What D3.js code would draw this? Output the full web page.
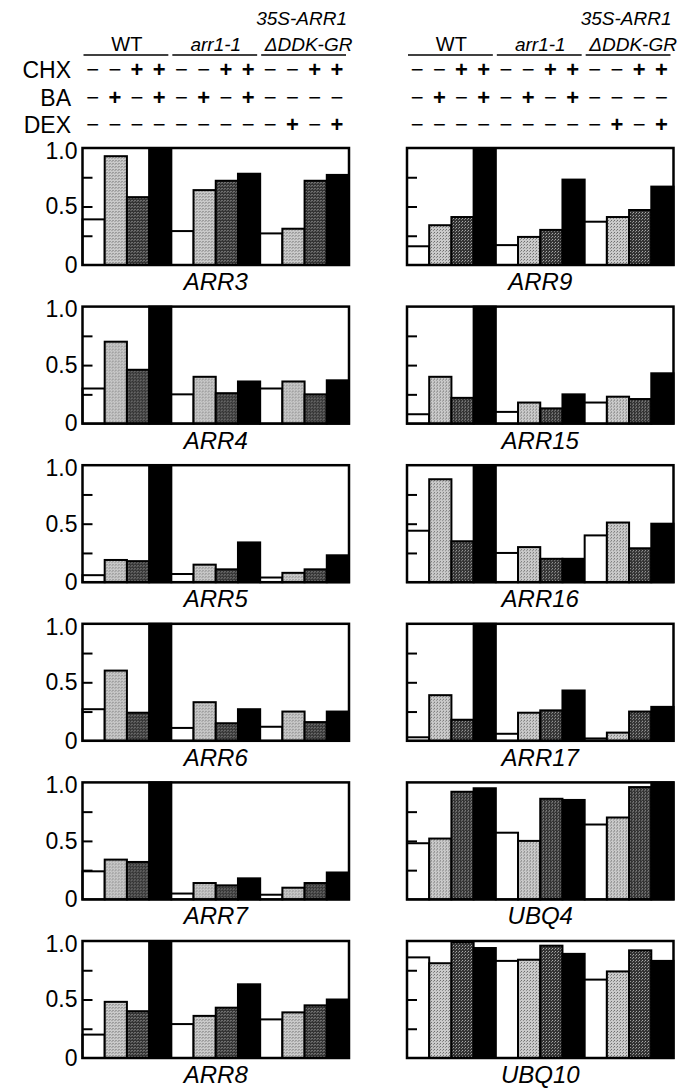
<!DOCTYPE html>
<html>
<head>
<meta charset="utf-8">
<script src="https://cdn.jsdelivr.net/npm/d3@7"></script>
<style>
  body {margin: 0; background: #fff;}
  text {font-family: "Liberation Sans", Arial, sans-serif; fill: #000;}
</style>
</head>
<body>
<div id="vis"></div>
<script>
const FRAME_WIDTH = 681;
const FRAME_HEIGHT = 1090;

// column / group labels
const GROUPS = ['WT', 'arr1-1', '\u0394DDK-GR'];
const CHX = ['-', '-', '+', '+', '-', '-', '+', '+', '-', '-', '+', '+'];
const BA  = ['-', '+', '-', '+', '-', '+', '-', '+', '-', '-', '-', '-'];
const DEX = ['-', '-', '-', '-', '-', '-', '-', '-', '-', '+', '-', '+'];
const Y_LABELS = [0, 0.5, 1];
const Y_TICKS = [0.25, 0.5, 0.75];

// relative expression, 12 lanes per gene
const ARR3  = [0.39, 0.93, 0.58, 1.00, 0.29, 0.64, 0.72, 0.78, 0.27, 0.31, 0.72, 0.77];
const ARR4  = [0.30, 0.70, 0.46, 1.00, 0.25, 0.40, 0.26, 0.36, 0.30, 0.36, 0.25, 0.37];
const ARR5  = [0.06, 0.19, 0.18, 1.00, 0.07, 0.15, 0.11, 0.34, 0.04, 0.08, 0.11, 0.23];
const ARR6  = [0.27, 0.60, 0.24, 1.00, 0.11, 0.33, 0.15, 0.27, 0.12, 0.25, 0.16, 0.25];
const ARR7  = [0.24, 0.34, 0.32, 1.00, 0.05, 0.14, 0.12, 0.18, 0.04, 0.10, 0.14, 0.23];
const ARR8  = [0.20, 0.48, 0.40, 1.00, 0.29, 0.36, 0.43, 0.63, 0.33, 0.39, 0.45, 0.50];
const ARR9  = [0.16, 0.34, 0.41, 1.00, 0.17, 0.24, 0.30, 0.73, 0.37, 0.41, 0.47, 0.67];
const ARR15 = [0.08, 0.40, 0.22, 1.00, 0.10, 0.18, 0.13, 0.25, 0.18, 0.23, 0.21, 0.43];
const ARR16 = [0.44, 0.88, 0.35, 1.00, 0.25, 0.30, 0.20, 0.20, 0.40, 0.51, 0.29, 0.50];
const ARR17 = [0.03, 0.39, 0.18, 1.00, 0.06, 0.24, 0.26, 0.43, 0.02, 0.07, 0.25, 0.29];
const UBQ4  = [0.48, 0.52, 0.92, 0.95, 0.57, 0.50, 0.86, 0.85, 0.64, 0.70, 0.96, 1.00];
const UBQ10 = [0.86, 0.81, 0.99, 0.94, 0.83, 0.84, 0.96, 0.89, 0.67, 0.74, 0.92, 0.83];

const LEFT_GENES = [['ARR3', ARR3], ['ARR4', ARR4], ['ARR5', ARR5], ['ARR6', ARR6], ['ARR7', ARR7], ['ARR8', ARR8]];
const RIGHT_GENES = [['ARR9', ARR9], ['ARR15', ARR15], ['ARR16', ARR16], ['ARR17', ARR17], ['UBQ4', UBQ4], ['UBQ10', UBQ10]];

// layout
const COL_X = [82.5, 407];
const PANEL_W = 266.5;
const PANEL_H = 117;
const TOP = 148;
const ROW_STEP = 158.6;
const ROW_Y = [78, 106, 132.5];

const SVG = d3.select('#vis')
  .append('svg')
    .attr('width', FRAME_WIDTH)
    .attr('height', FRAME_HEIGHT);

// stipple fills for the grey bars
const defs = SVG.append('defs');
const light = defs.append('pattern').attr('id', 'light')
  .attr('width', 3).attr('height', 3).attr('patternUnits', 'userSpaceOnUse');
light.append('rect').attr('width', 3).attr('height', 3).attr('fill', '#cacaca');
light.append('rect').attr('x', 0).attr('y', 0).attr('width', 1).attr('height', 1).attr('fill', '#6e6e6e');
light.append('rect').attr('x', 2).attr('y', 1).attr('width', 1).attr('height', 1).attr('fill', '#8e8e8e');

const dark = defs.append('pattern').attr('id', 'dark')
  .attr('width', 3).attr('height', 3).attr('patternUnits', 'userSpaceOnUse');
dark.append('rect').attr('width', 3).attr('height', 3).attr('fill', '#333');
dark.append('rect').attr('x', 1).attr('y', 1).attr('width', 1).attr('height', 1).attr('fill', '#a8a8a8');
dark.append('rect').attr('x', 0).attr('y', 2).attr('width', 1).attr('height', 1).attr('fill', '#808080');

const FILLS = ['#fff', 'url(#light)', 'url(#dark)', '#000'];

const X_SCALE = d3.scaleBand()
  .domain(d3.range(12))
  .range([0, PANEL_W])
  .padding(0);

const Y_SCALE = d3.scaleLinear()
  .domain([0, 1])
  .range([PANEL_H, 0]);

// header above each column
function drawHeader(x0) {
  const g = SVG.append('g').attr('transform', 'translate(' + x0 + ',0)');

  g.append('text')
    .attr('x', PANEL_W - 2).attr('y', 25)
    .attr('text-anchor', 'end')
    .attr('font-size', '19px').attr('font-style', 'italic')
    .text('35S-ARR1');

  GROUPS.forEach((name, k) => {
    const gx0 = X_SCALE(k * 4);
    const gx1 = X_SCALE(k * 4 + 3) + X_SCALE.bandwidth();
    g.append('text')
      .attr('x', (gx0 + gx1) / 2 + (k === 2 ? 4 : 0)).attr('y', 51)
      .attr('text-anchor', 'middle')
      .attr('font-size', k === 0 ? '20px' : '19px')
      .attr('font-style', k === 0 ? 'normal' : 'italic')
      .text(name);
    g.append('line')
      .attr('x1', gx0 + 1).attr('x2', gx1 - 3)
      .attr('y1', 55).attr('y2', 55)
      .attr('stroke', '#000').attr('stroke-width', 1.5);
  });

  [CHX, BA, DEX].forEach((row, r) => {
    g.selectAll('.sym' + r)
      .data(row)
      .enter()
      .append('text')
        .attr('x', (d, i) => X_SCALE(i) + X_SCALE.bandwidth() / 2 - 1)
        .attr('y', ROW_Y[r] - 1)
        .attr('text-anchor', 'middle')
        .attr('font-size', '22px')
        .attr('font-weight', (d) => d === '+' ? 'bold' : 'normal')
        .text((d) => d === '+' ? '+' : '\u2212');
  });
}

drawHeader(COL_X[0]);
drawHeader(COL_X[1]);

// row names on the far left
['CHX', 'BA', 'DEX'].forEach((name, r) => {
  SVG.append('text')
    .attr('x', 71).attr('y', ROW_Y[r])
    .attr('text-anchor', 'end')
    .attr('font-size', '23px')
    .text(name);
});

function drawPanel(x0, y0, gene, values, showLabels) {
  const g = SVG.append('g').attr('transform', 'translate(' + x0 + ',' + y0 + ')');

  g.selectAll('.bar')
    .data(values)
    .enter()
    .append('rect')
      .attr('x', (d, i) => X_SCALE(i))
      .attr('y', (d) => Y_SCALE(d))
      .attr('width', X_SCALE.bandwidth())
      .attr('height', (d) => PANEL_H - Y_SCALE(d))
      .attr('fill', (d, i) => FILLS[i % 4])
      .attr('stroke', '#000')
      .attr('stroke-width', 2);

  // inner ticks
  const ticks = g.append('g')
    .call(d3.axisRight(Y_SCALE).tickValues(Y_TICKS).tickSize(10).tickFormat(''));
  ticks.select('.domain').remove();
  ticks.selectAll('line').attr('stroke-width', 2);

  g.append('rect')
    .attr('width', PANEL_W).attr('height', PANEL_H)
    .attr('fill', 'none').attr('stroke', '#000').attr('stroke-width', 2.5);

  if (showLabels) {
    const lab = g.append('g')
      .call(d3.axisLeft(Y_SCALE).tickValues(Y_LABELS).tickSize(0).tickPadding(5)
        .tickFormat((d) => d === 0 ? '0' : d3.format('.1f')(d)));
    lab.select('.domain').remove();
    lab.selectAll('text')
      .attr('font-size', '23px')
      .attr('font-family', '"Liberation Sans", Arial, sans-serif')
      .attr('y', (d) => d === 1 ? 3 : 0);
  }

  g.append('text')
    .attr('x', PANEL_W / 2).attr('y', PANEL_H + 25)
    .attr('text-anchor', 'middle')
    .attr('font-size', '24px').attr('font-style', 'italic')
    .text(gene);
}

LEFT_GENES.forEach((d, i) => drawPanel(COL_X[0], TOP + i * ROW_STEP, d[0], d[1], true));
RIGHT_GENES.forEach((d, i) => drawPanel(COL_X[1], TOP + i * ROW_STEP, d[0], d[1], false));
</script>
</body>
</html>
